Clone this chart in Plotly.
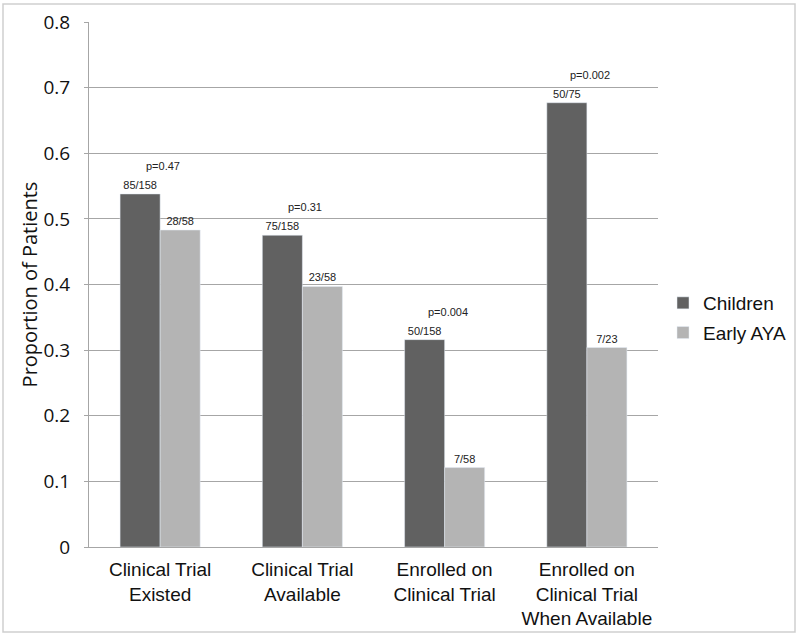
import plotly.graph_objects as go

categories = ["Clinical Trial<br>Existed", "Clinical Trial<br>Available",
              "Enrolled on<br>Clinical Trial", "Enrolled on<br>Clinical Trial<br>When Available"]
children = [0.538, 0.475, 0.316, 0.677]
early_aya = [0.483, 0.397, 0.121, 0.304]
children_labels = ["85/158", "75/158", "50/158", "50/75"]
aya_labels = ["28/58", "23/58", "7/58", "7/23"]
p_values = ["p=0.47", "p=0.31", "p=0.004", "p=0.002"]
y_ticks = [0, 0.1, 0.2, 0.3, 0.4, 0.5, 0.6, 0.7, 0.8]
y_tick_text = ["0", "0.1", "0.2", "0.3", "0.4", "0.5", "0.6", "0.7", "0.8"]

W, H = 800, 637
ml, mr, mt, mb = 89, 142, 22, 90
pw, ph = W - ml - mr, H - mt - mb

fig = go.Figure()
fig.add_trace(go.Bar(
    name="Children", x=categories, y=children, text=children_labels,
    textposition="outside", marker_color="#616161", legendgroup="a",
    textfont=dict(family="Liberation Sans, Arial", size=11, color="#222222"),
    cliponaxis=False,
))
fig.add_trace(go.Bar(
    name="Early AYA", x=categories, y=early_aya, text=aya_labels,
    textposition="outside", marker_color="#b4b4b4", legendgroup="b",
    textfont=dict(family="Liberation Sans, Arial", size=11, color="#222222"),
    cliponaxis=False,
))

for cat, val, p in zip(categories, children, p_values):
    fig.add_annotation(x=cat, y=val, text=p, showarrow=False, xshift=3, yshift=28,
                       font=dict(family="Liberation Sans, Arial", size=11, color="#222222"))

def px_to_paper_x(px):
    return (px - ml) / pw

def px_to_paper_y(py):
    return (H - mb - py) / ph

fig.add_shape(type="rect", xref="paper", yref="paper",
              x0=px_to_paper_x(3), x1=px_to_paper_x(795),
              y0=px_to_paper_y(632), y1=px_to_paper_y(4),
              line=dict(color="#cfcfcf", width=1.5), fillcolor="rgba(0,0,0,0)", layer="below")

fig.update_layout(
    width=W, height=H,
    margin=dict(l=ml, r=mr, t=mt, b=mb, autoexpand=False),
    paper_bgcolor="white", plot_bgcolor="white",
    barmode="group", bargap=0.437, bargroupgap=0,
    showlegend=True,
    legend=dict(x=px_to_paper_x(663), y=px_to_paper_y(318), xanchor="left", yanchor="middle",
                font=dict(family="Liberation Sans, Arial", size=19, color="#111111"),
                traceorder="grouped", tracegroupgap=2, itemwidth=30),
    font=dict(family="Liberation Sans, Arial", color="#111111"),
)
fig.update_xaxes(
    showline=True, linecolor="#a6a6a6", linewidth=1, ticks="",
    ticklabelstandoff=5,
    tickfont=dict(family="Liberation Sans, Arial", size=19, color="#111111"),
    showgrid=False, range=[-0.5, 3.5],
)
fig.update_yaxes(
    range=[0, 0.8], tickvals=y_ticks, ticktext=y_tick_text,
    showgrid=True, gridcolor="#a6a6a6", gridwidth=1,
    showline=True, linecolor="#a6a6a6", linewidth=1,
    ticks="outside", ticklen=4, tickcolor="#a6a6a6",
    ticklabelstandoff=10,
    tickfont=dict(family="Open Sans", size=19, color="#111111"),
    title=dict(text="Proportion of Patients", font=dict(family="Open Sans", size=20, color="#111111"),
               standoff=0),
    zeroline=False,
)

fig.write_html("out.html", config={"displayModeBar": False},
               post_script="document.body.style.margin='0';document.body.style.overflow='hidden';")
